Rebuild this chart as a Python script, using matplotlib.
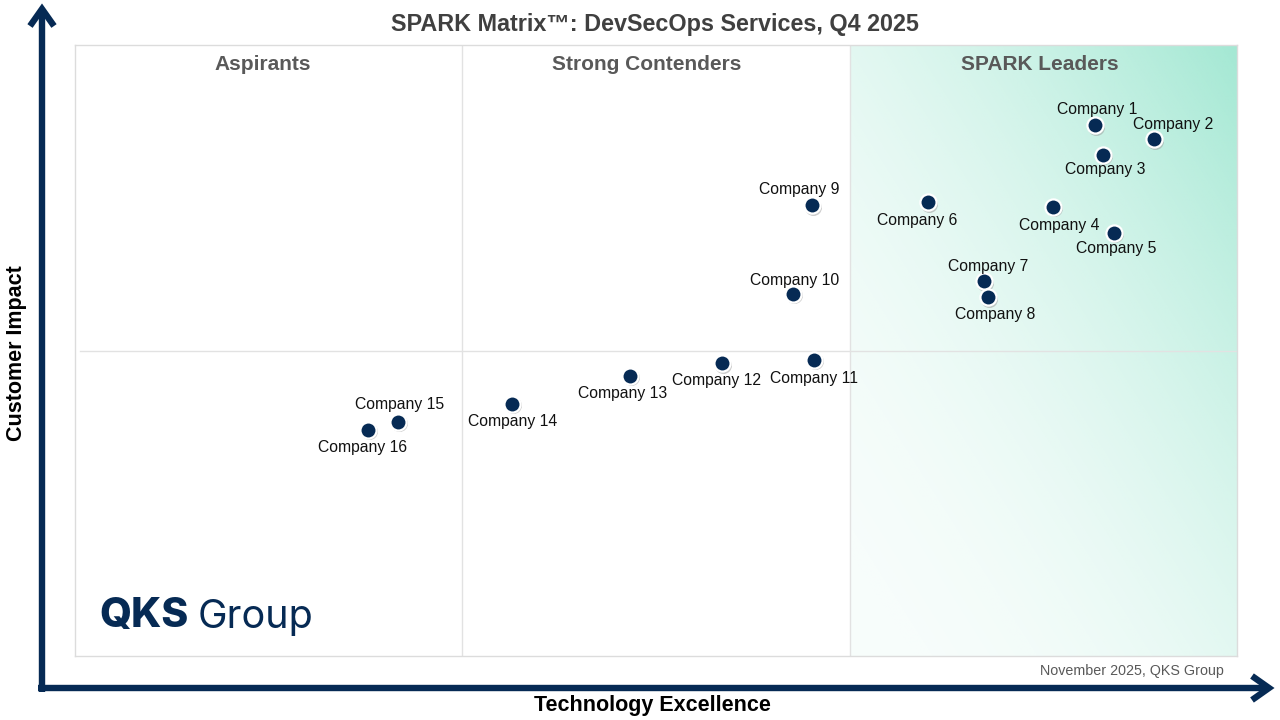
import numpy as np
import matplotlib
matplotlib.use("Agg")
import matplotlib.pyplot as plt
from matplotlib.colors import to_rgb
from matplotlib.transforms import ScaledTranslation

plt.rcParams["font.family"] = ["Liberation Sans", "DejaVu Sans"]

# Data (technology excellence, customer impact)
companies = [f"Company {i}" for i in range(1, 17)]
tech_excellence = [2.633, 2.786, 2.654, 2.525, 2.682, 2.202, 2.347, 2.357,
                   1.903, 1.854, 1.908, 1.670, 1.433, 1.128, 0.834, 0.756]
customer_impact = [1.738, 1.692, 1.640, 1.470, 1.385, 1.486, 1.227, 1.175,
                   1.476, 1.185, 0.969, 0.959, 0.917, 0.825, 0.766, 0.740]
quadrants = ["Aspirants", "Strong Contenders", "SPARK Leaders"]

# label offsets in pixels (dx right, dy up)
label_offsets = [(2, 16), (19, 15), (2, -15), (6, -19), (2, -16), (-11, -18),
                 (4, 15), (7, -17), (-13, 16), (2, 13), (0, -19), (-5, -17),
                 (-7, -18), (1, -18), (2, 17), (-5, -18)]
header_x = [0.485, 1.477, 2.49]

NAVY = "#062a54"
W, H = 1280, 720
fig = plt.figure(figsize=(12.8, 7.2), dpi=100)

left, right, top, bottom = 75, 1237, 45, 656
ax = fig.add_axes([left / W, (H - bottom) / H, (right - left) / W, (bottom - top) / H])
ax.set_xticks([])
ax.set_yticks([])
for s in ax.spines.values():
    s.set_color("#dcdcdc")
    s.set_linewidth(1)

# leaders gradient
nx, ny = 300, 400
u = np.linspace(0, 1, nx)[None, :]
v = np.linspace(1, 0, ny)[:, None]
t = (u + v) / 2
alpha = 0.08 + 0.92 * t ** 2.0
img = np.zeros((ny, nx, 4))
img[..., :3] = to_rgb("#a3e8d3")
img[..., 3] = alpha
ax.imshow(img, extent=(2, 3, 0, 2), aspect="auto", zorder=0, interpolation="bilinear")
ax.set_xlim(0, 3)
ax.set_ylim(0, 2)

for xv in (1, 2):
    ax.axvline(xv, color="#e2e2e2", lw=1, zorder=1)
ax.axhline(1, color="#e2e2e2", lw=1, zorder=1, xmin=0.004, xmax=1.0)

for hx, q in zip(header_x, quadrants):
    ax.text(hx, 1.935, q, ha="center", va="center", fontsize=15,
            fontweight="bold", color="#595959", zorder=3)

# markers with a soft shadow
shadow = ax.transData + ScaledTranslation(1 / 100, -1.5 / 100, fig.dpi_scale_trans)
ax.scatter(tech_excellence, customer_impact, s=150, color="#9a9a9a", alpha=0.5,
           zorder=3, linewidths=0, transform=shadow)
ax.scatter(tech_excellence, customer_impact, s=135, color=NAVY, edgecolors="white",
           linewidths=1.6, zorder=4)

for name, xv, yv, (dx, dy) in zip(companies, tech_excellence, customer_impact, label_offsets):
    ax.annotate(name, (xv, yv), xytext=(dx * 0.72, dy * 0.72), textcoords="offset points",
                ha="center", va="center", fontsize=11.3, color="#111111", zorder=5)

# overlay for arrows, outside text and logo, pixel coordinates
deco = fig.add_axes([0, 0, 1, 1], zorder=5)
deco.set_xlim(0, W)
deco.set_ylim(H, 0)
deco.set_axis_off()
deco.patch.set_facecolor("none")

lw = 4.6
deco.plot([42, 42], [692, 10], color=NAVY, lw=lw, solid_capstyle="butt")
deco.plot([30, 42, 54], [26, 9, 26], color=NAVY, lw=lw, solid_joinstyle="miter", solid_capstyle="butt")
deco.plot([38, 1267], [688, 688], color=NAVY, lw=lw, solid_capstyle="butt")
deco.plot([1252, 1269, 1252], [676, 688, 700], color=NAVY, lw=lw, solid_joinstyle="miter", solid_capstyle="butt")

deco.text(655, 24, "SPARK Matrix\u2122: DevSecOps Services, Q4 2025", ha="center", va="center",
          fontsize=16.8, fontweight="bold", color="#404040")
deco.text(17, 353, "Customer Impact", rotation=90, ha="center", va="center",
          fontsize=15.5, fontweight="bold", color="black")
deco.text(652, 705, "Technology Excellence", ha="center", va="center",
          fontsize=15.5, fontweight="bold", color="black")
deco.text(1224, 671, "November 2025, QKS Group", ha="right", va="center",
          fontsize=10.3, color="#595959")

# logo
deco.text(99, 616, "QKS", ha="left", va="center", fontsize=29.5, fontweight="heavy",
          family=["Inter", "Open Sans", "DejaVu Sans"], color=NAVY)
deco.text(198, 617, "Group", ha="left", va="center", fontsize=28.5,
          family=["Inter", "Open Sans", "DejaVu Sans"], color=NAVY)

fig.savefig("out.png", dpi=100)
